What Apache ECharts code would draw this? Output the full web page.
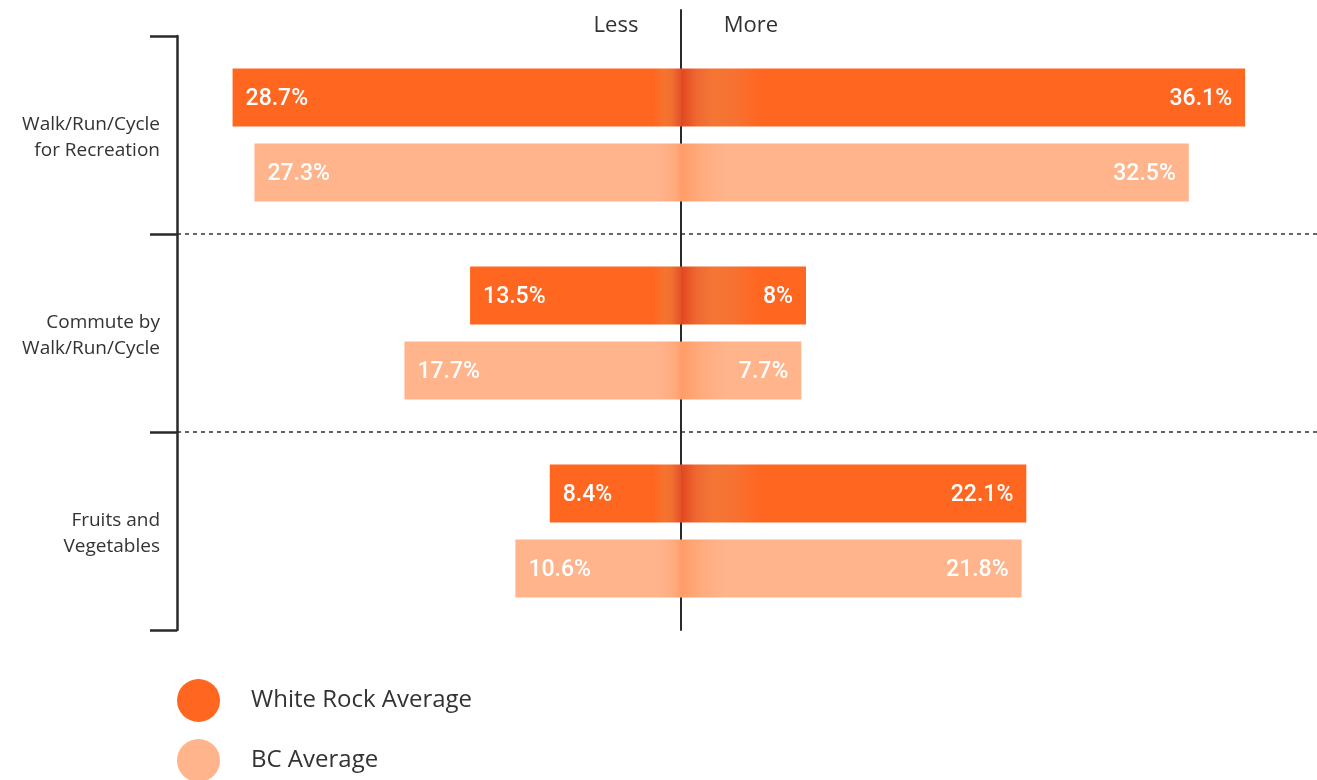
<!DOCTYPE html>
<html>
<head>
<meta charset="utf-8">
<script src="https://cdn.jsdelivr.net/npm/echarts@6/dist/echarts.min.js"></script>
<style>
html,body{margin:0;padding:0;background:#fff;}
#chart{width:1317px;height:780px;}
</style>
</head>
<body>
<div id="chart"></div>
<script>
const categories = ['Walk/Run/Cycle\nfor Recreation', 'Commute by\nWalk/Run/Cycle', 'Fruits and\nVegetables'];
const whiteRockLess = [28.7, 13.5, 8.4];
const whiteRockMore = [36.1, 8, 22.1];
const bcLess = [27.3, 17.7, 10.6];
const bcMore = [32.5, 7.7, 21.8];
const sideLabels = ['Less', 'More'];
const seriesNames = ['White Rock Average', 'BC Average'];

const WR = '#FF6620';
const BC = '#FFB48C';
const xMin = -32.256, xMax = 40.704;
const centerX = 681;

function grad(stops) {
  return {
    type: 'linear', global: true,
    x: centerX - 80, y: 0, x2: centerX + 80, y2: 0,
    colorStops: stops.map(s => ({offset: s[0], color: s[1]}))
  };
}
const wrGrad = grad([[0, WR], [0.32, WR], [0.4, '#F6742F'], [0.44, '#F2702F'], [0.5, '#E2522A'], [0.501, '#E0481E'], [0.6, '#F06832'], [0.7, '#F47634'], [0.82, '#F77232'], [1, WR]]);
const bcGrad = grad([[0, BC], [0.36, BC], [0.46, '#FFAA7E'], [0.5, '#FF9E6C'], [0.501, '#FF9C68'], [0.62, '#FFAA7C'], [0.78, BC], [1, BC]]);

const labelBase = {
  show: true, color: '#fff', fontSize: 23, fontFamily: 'Roboto', fontWeight: 500,
  distance: 13, offset: [0, 2], formatter: p => Math.abs(p.value) + '%'
};

const legendText = {fontSize: 24, color: '#333', fontFamily: 'Open Sans', padding: [0, 0, 0, 26]};

const chart = echarts.init(document.getElementById('chart'));
chart.setOption({
  animation: false,
  grid: [
    {left: 177, right: 0, top: 36, height: 594, containLabel: false},
    {left: 177, right: 0, top: 10, height: 620, containLabel: false}
  ],
  xAxis: [
    {type: 'value', gridIndex: 0, min: xMin, max: xMax, show: false},
    {type: 'value', gridIndex: 1, min: xMin, max: xMax, axisLabel: {show: false}, axisTick: {show: false}, axisLine: {show: false}, splitLine: {show: false}}
  ],
  yAxis: [
    {
      type: 'category', gridIndex: 0, data: categories, inverse: true,
      axisLine: {show: true, onZero: false, lineStyle: {color: '#2a2a2a', width: 2.5}},
      axisTick: {show: true, length: 27, alignWithLabel: false, lineStyle: {color: '#2a2a2a', width: 2.5}},
      axisLabel: {
        margin: 17, align: 'right',
        formatter: v => '{s| }\n' + v.split('\n').map(s => '{a|' + s + '}').join('\n'),
        rich: {
          s: {fontSize: 1, lineHeight: 6},
          a: {fontSize: 19, color: '#333', fontFamily: 'Open Sans', lineHeight: 26, align: 'right'}
        }
      },
      splitLine: {show: true, showMinLine: false, showMaxLine: false, lineStyle: {color: '#333', width: 1.5, type: [4, 4]}}
    },
    {
      type: 'value', gridIndex: 1, min: 0, max: 1,
      axisLine: {show: true, onZero: true, lineStyle: {color: '#2a2a2a', width: 2}},
      axisTick: {show: false}, axisLabel: {show: false}, splitLine: {show: false}
    }
  ],
  legend: [
    {left: 177, top: 679, padding: 0, itemWidth: 43, itemHeight: 43, icon: 'circle', textStyle: legendText,
      data: [{name: seriesNames[0], itemStyle: {color: WR}}]},
    {left: 177, top: 739, padding: 0, itemWidth: 43, itemHeight: 43, icon: 'circle', textStyle: legendText,
      data: [{name: seriesNames[1], itemStyle: {color: BC}}]}
  ],
  graphic: [
    {type: 'text', x: 616, y: 26, style: {text: sideLabels[0], fontSize: 22, fill: '#333', fontFamily: 'Open Sans', align: 'center', verticalAlign: 'middle'}},
    {type: 'text', x: 751, y: 26, style: {text: sideLabels[1], fontSize: 22, fill: '#333', fontFamily: 'Open Sans', align: 'center', verticalAlign: 'middle'}}
  ],
  series: [
    {name: seriesNames[0], type: 'bar', stack: 'wr', barWidth: 58, barGap: '29%', data: whiteRockLess.map(v => -v),
      itemStyle: {color: wrGrad}, label: Object.assign({position: 'insideLeft'}, labelBase)},
    {name: seriesNames[0], type: 'bar', stack: 'wr', barWidth: 58, barGap: '29%', data: whiteRockMore,
      itemStyle: {color: wrGrad}, label: Object.assign({position: 'insideRight'}, labelBase)},
    {name: seriesNames[1], type: 'bar', stack: 'bc', barWidth: 58, barGap: '29%', data: bcLess.map(v => -v),
      itemStyle: {color: bcGrad}, label: Object.assign({position: 'insideLeft'}, labelBase)},
    {name: seriesNames[1], type: 'bar', stack: 'bc', barWidth: 58, barGap: '29%', data: bcMore,
      itemStyle: {color: bcGrad}, label: Object.assign({position: 'insideRight'}, labelBase)}
  ]
});
</script>
</body>
</html>
